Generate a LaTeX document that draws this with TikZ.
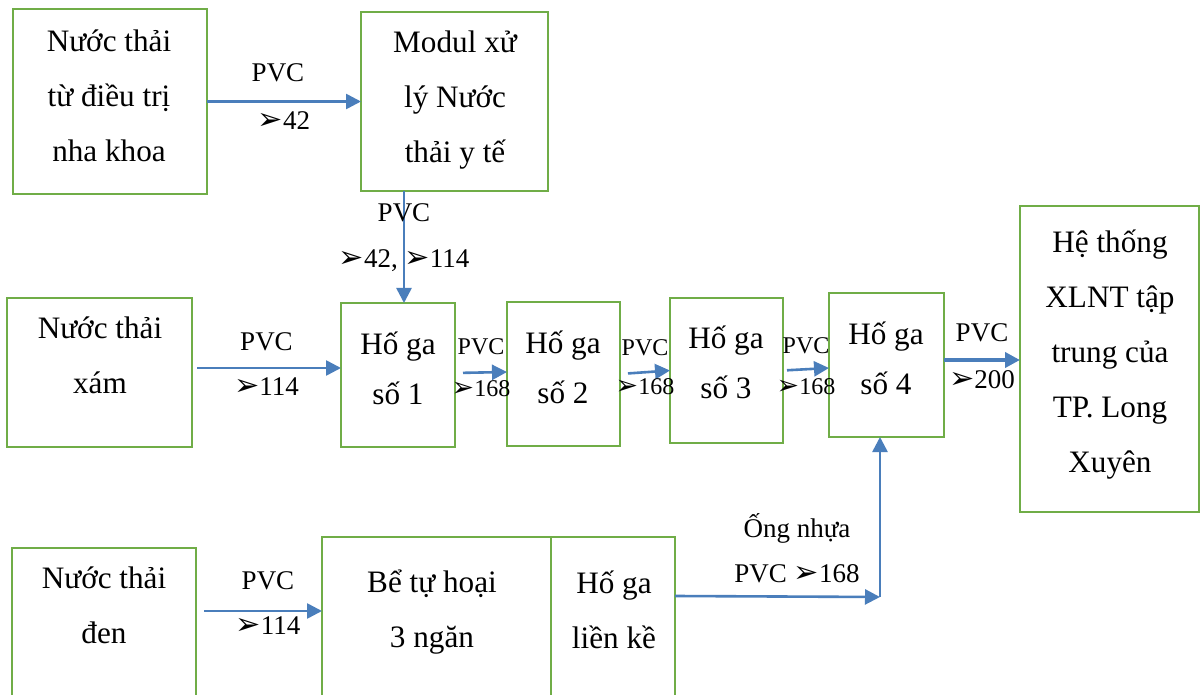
\documentclass[tikz,border=0pt]{standalone}
\usepackage{fontspec}
\setmainfont{Liberation Serif}
\newfontfamily\symfont{DejaVu Sans}
\usetikzlibrary{arrows.meta,positioning}
\definecolor{boxgreen}{HTML}{70AD47}
\definecolor{pipeblue}{HTML}{4A7EBB}
\newcommand{\pvcsign}{\scalebox{1.12}{\symfont ➢}}

\begin{document}
\begin{tikzpicture}[
  x=0.5pt, y=-0.5pt,
  box/.style={draw=boxgreen, line width=1.4pt, inner sep=0pt, outer sep=0pt},
  txt/.style={font=\fontsize{15.6}{27.5}\selectfont, align=center, inner sep=0pt},
  hotxt/.style={txt, font=\fontsize{15.6}{25}\selectfont},
  lbl/.style={font=\fontsize{13.5}{16}\selectfont, inner sep=0pt},
  slbl/.style={font=\fontsize{12}{14}\selectfont, inner sep=0pt},
  pipe/.style={draw=pipeblue, line width=1.3pt, -{Triangle[length=7.5pt, width=7.5pt]}},
]
  \useasboundingbox (0,0) rectangle (1200,695);
  \fill[white] (0,0) rectangle (1200,695);
  \clip (0,0) rectangle (1200,695);

  % Top row
  \node[box, minimum width=97pt, minimum height=92.5pt] (nk) at (110,101.5) {};
  \node[txt] (nkt) at (109,96) {Nước thải\\từ điều trị\\nha khoa};
  \node[box, minimum width=93.5pt, minimum height=89.5pt] (modul) at (454.5,101.5) {};
  \node[txt] (modult) at (455,100) {Modul xử\\lý Nước\\thải y tế};

  % Middle row
  \node[box, minimum width=92.5pt, minimum height=74.5pt] (xam) at (99.5,372.5) {};
  \node[txt] (xamt) at (100,355) {Nước thải\\xám};
  \node[box, minimum width=57pt, minimum height=72pt] (h1) at (398,375) {};
  \node[hotxt] (h1t) at (398,368) {Hố ga\\số 1};
  \node[box, minimum width=56.5pt, minimum height=72pt] (h2) at (563.5,374) {};
  \node[hotxt] (h2t) at (563,367) {Hố ga\\số 2};
  \node[box, minimum width=56.5pt, minimum height=72.5pt] (h3) at (726.5,370.5) {};
  \node[hotxt] (h3t) at (726,362.5) {Hố ga\\số 3};
  \node[box, minimum width=57.5pt, minimum height=72pt] (h4) at (886.5,365) {};
  \node[hotxt] (h4t) at (886,358) {Hố ga\\số 4};
  \node[box, minimum width=89.5pt, minimum height=153pt] (xlnt) at (1109.5,359) {};
  \node[txt] (xlntt) at (1110,355) {Hệ thống\\XLNT tập\\trung của\\TP. Long\\Xuyên};

  % Bottom row
  \node[box, minimum width=92pt, minimum height=110pt, anchor=north] (den) at (104,548) {};
  \node[txt] (dent) at (104,605) {Nước thải\\đen};
  \node[box, minimum width=114.5pt, minimum height=110pt, anchor=north] (tank) at (436.5,537) {};
  \node[txt] (tankt) at (432,612) {Bể tự hoại\\3 ngăn};
  \node[box, minimum width=62pt, minimum height=110pt, right=0pt of tank] (mh) {};
  \node[txt] (mht) at (614,610) {Hố ga\\liền kề};
  \coordinate (bend) at (880,597);

  % Pipes
  \draw[pipe] (nk) -- (modul)
    node[lbl, midway, xshift=-3pt, yshift=14.25pt] (p1a) {PVC}
    node[lbl, midway, yshift=-9.75pt] (p1b) {\pvcsign42};
  \draw[pipe] ([xshift=-25.25pt]modul.south) -- ([xshift=-25.25pt]modul.south |- h1.north)
    node[lbl, pos=0.19] (p2a) {PVC}
    node[lbl, pos=0.62] (p2b) {\pvcsign42, \pvcsign114};
  \draw[pipe, shorten <=2.5pt] ([yshift=2.25pt]xam.east) -- ([yshift=2.25pt]xam.east -| h1.west)
    node[lbl, midway, yshift=13pt] (p3a) {PVC}
    node[lbl, midway, yshift=-9.5pt] (p3b) {\pvcsign114};
  \draw[pipe, shorten <=4pt] ([yshift=1pt]h1.east) -- ([yshift=1pt]h2.west)
    node[slbl, midway, yshift=13pt] (p4a) {PVC}
    node[slbl, midway, yshift=-8pt] (p4b) {\pvcsign168};
  \draw[pipe, shorten <=4pt] (h2.east) -- (h3.west)
    node[slbl, midway, yshift=12.5pt] (p5a) {PVC}
    node[slbl, midway, yshift=-7pt] (p5b) {\pvcsign168};
  \draw[pipe, shorten <=2pt] (h3.east) -- ([yshift=-1.5pt]h4.west)
    node[slbl, midway, yshift=11.75pt] (p6a) {PVC}
    node[slbl, midway, yshift=-8.75pt] (p6b) {\pvcsign168};
  \draw[pipe, line width=2.3pt] ([yshift=2.5pt]h4.east) -- ([yshift=2.5pt]h4.east -| xlnt.west)
    node[lbl, midway, yshift=13.5pt] (p7a) {PVC}
    node[lbl, midway, yshift=-10pt] (p7b) {\pvcsign200};
  \draw[pipe, shorten <=4pt] ([yshift=-31.5pt]den.north east) -- ([yshift=-31.5pt]den.north east -| tank.west)
    node[lbl, midway, xshift=4.5pt, yshift=15pt] (p8a) {PVC}
    node[lbl, midway, xshift=4.5pt, yshift=-7.5pt] (p8b) {\pvcsign114};
  \draw[pipe] ([yshift=-29.5pt]mh.north east) -- (bend)
    node[lbl, pos=0.595, yshift=34pt] (p9a) {Ống nhựa}
    node[lbl, pos=0.595, yshift=11.5pt] (p9b) {PVC \pvcsign168};
  \draw[pipe] (bend) -- (bend |- h4.south);
\end{tikzpicture}
\end{document}
